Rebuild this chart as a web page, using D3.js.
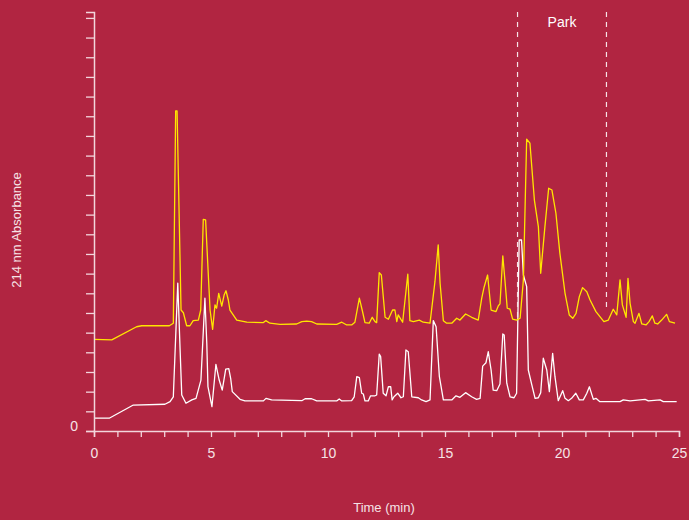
<!DOCTYPE html>
<html>
<head>
<meta charset="utf-8">
<script src="https://cdn.jsdelivr.net/npm/d3@7"></script>
<style>
  html, body { margin: 0; padding: 0; background: #b12541; }
  svg { display: block; }
  text { font-family: "Liberation Sans", Arial, sans-serif; }
</style>
</head>
<body>
<svg id="chart" width="689" height="520"></svg>
<script>
// ---- data ----
const xTicks = d3.range(0, 26, 1);
const xTickLabels = [0, 5, 10, 15, 20, 25];
const yTicks = d3.range(0, 22, 1);
const yTickLabels = [0];
const xTitle = "Time (min)";
const yTitle = "214 nm Absorbance";
const regionLabel = "Park";
const regionBounds = [18.1, 21.9];
const regionBottoms = [5.7, 6.2];

// yellow trace: [time, absorbance]
const yellowTime = [0,0.76,1.82,2.04,3.22,3.39,3.49,3.55,3.72,3.82,3.96,4.10,4.24,4.46,4.56,4.67,4.77,4.86,4.96,5.07,5.17,5.24,5.33,5.46,5.56,5.64,5.74,5.81,6.10,6.53,7.24,7.34,7.52,7.95,8.66,8.88,9.09,9.30,9.52,10.37,10.59,10.80,11.01,11.15,11.34,11.47,11.58,11.76,11.89,12.01,12.08,12.19,12.28,12.44,12.58,12.76,12.86,12.94,13.00,13.19,13.41,13.50,13.65,13.90,14.07,14.36,14.57,14.71,14.79,14.93,15.07,15.29,15.50,15.64,15.88,16.14,16.42,16.57,16.67,16.82,16.97,17.18,17.28,17.35,17.47,17.56,17.66,17.78,17.89,18.06,18.21,18.35,18.49,18.63,18.82,18.99,19.09,19.27,19.43,19.57,19.74,19.91,20.13,20.31,20.46,20.60,20.74,20.88,21.06,21.20,21.45,21.79,21.98,22.19,22.34,22.48,22.58,22.74,22.82,22.91,23.05,23.12,23.29,23.41,23.59,23.72,23.86,23.97,24.09,24.26,24.47,24.59,24.83];
const yellowValue = [4.66,4.63,5.30,5.35,5.35,5.48,16.27,16.27,6.15,6.01,5.35,5.35,5.61,5.64,6.15,10.76,10.73,8.54,6.15,5.17,6.41,6.24,7.00,6.35,6.91,7.13,6.66,6.15,5.64,5.53,5.51,5.61,5.48,5.42,5.44,5.56,5.59,5.56,5.44,5.42,5.53,5.39,5.39,5.53,6.75,6.10,5.51,5.48,5.78,5.56,5.51,8.05,7.93,5.78,5.68,6.15,6.15,5.56,5.90,5.53,7.97,5.61,5.56,5.64,5.53,5.48,7.59,9.46,7.51,5.61,5.48,5.48,5.73,5.64,5.95,5.78,5.64,6.75,7.31,7.93,6.15,6.07,6.37,6.46,8.90,7.68,6.24,6.19,5.69,5.64,5.73,7.68,14.83,14.63,11.74,10.39,8.02,10.39,12.34,12.25,11.07,9.03,7.00,5.90,5.73,5.98,6.83,7.29,7.08,6.66,6.07,5.56,5.64,6.19,5.90,7.68,6.41,5.78,7.76,6.49,5.56,5.48,5.98,5.44,5.39,5.56,5.85,5.48,5.44,5.64,5.93,5.56,5.48];

// white trace: [time, absorbance]
const whiteTime = [0,0.65,1.68,3.03,3.25,3.39,3.58,3.68,3.75,3.93,4.18,4.36,4.57,4.74,4.82,4.87,5.04,5.21,5.35,5.48,5.63,5.76,5.84,5.91,6.24,6.45,7.24,7.35,7.59,8.88,9.02,9.30,9.52,10.37,10.48,10.59,11.01,11.12,11.23,11.34,11.44,11.51,11.58,11.72,11.82,12.01,12.08,12.19,12.25,12.36,12.48,12.58,12.68,12.74,12.82,12.98,13.12,13.22,13.33,13.43,13.58,13.86,14.00,14.19,14.36,14.50,14.62,14.76,14.93,15.29,15.47,15.64,15.88,16.14,16.35,16.50,16.61,16.75,16.85,16.97,17.06,17.21,17.35,17.47,17.53,17.64,17.78,17.95,18.06,18.17,18.27,18.35,18.49,18.56,18.71,18.85,18.99,19.09,19.20,19.35,19.46,19.60,19.70,19.84,20.03,20.13,20.27,20.41,20.59,20.74,20.91,21.06,21.17,21.34,21.45,21.62,22.48,22.62,22.91,23.55,23.69,24.19,24.33,24.90];
const whiteValue = [0.65,0.65,1.32,1.36,1.49,1.74,7.51,4.12,1.83,1.41,1.58,1.66,2.59,6.75,4.46,2.25,1.24,3.39,2.59,2.08,3.14,3.17,2.68,2.00,1.61,1.53,1.53,1.66,1.58,1.54,1.64,1.64,1.53,1.53,1.63,1.53,1.54,1.74,2.76,2.71,1.92,1.88,1.53,1.53,1.79,1.79,1.83,3.91,3.78,1.92,1.79,2.25,2.25,1.58,1.74,1.92,1.69,1.74,4.12,4.03,1.74,1.69,1.58,1.49,1.58,5.61,5.30,2.76,1.58,1.58,1.79,1.71,1.95,1.74,1.61,1.66,3.30,3.47,4.03,3.10,2.08,2.05,2.39,4.93,4.88,2.43,1.74,1.69,1.92,9.71,9.71,7.93,7.34,3.10,2.34,1.66,1.69,1.95,3.70,3.10,2.00,3.95,2.76,1.54,2.05,1.66,1.54,1.66,1.92,1.58,1.58,1.92,2.25,1.61,1.66,1.49,1.49,1.58,1.53,1.61,1.53,1.58,1.49,1.49];

// ---- drawing ----
const margin = { left: 94, right: 10, top: 12, bottom: 89 };
const svg = d3.select("#chart");
const axisColor = "#f3d5dc";
const textColor = "#f6e2e6";

const x = d3.scaleLinear().domain([0, 25]).range([margin.left, 679]);
const y = d3.scaleLinear().domain([0, 21.3]).range([431, margin.top]);

// traces
const line = d3.line().x(d => x(d[0])).y(d => y(d[1]));
const yellowData = d3.zip(yellowTime, yellowValue);
const whiteData = d3.zip(whiteTime, whiteValue);

svg.append("path").datum(whiteData)
  .attr("d", line).attr("fill", "none")
  .attr("stroke", "#ffffff").attr("stroke-width", 1.3)
  .attr("stroke-linejoin", "round");

svg.append("path").datum(yellowData)
  .attr("d", line).attr("fill", "none")
  .attr("stroke", "#ffe600").attr("stroke-width", 1.3)
  .attr("stroke-linejoin", "round");

// region dashed lines
regionBounds.forEach((b, i) => {
  svg.append("line")
    .attr("x1", x(b)).attr("x2", x(b))
    .attr("y1", y(21.3)).attr("y2", y(regionBottoms[i]))
    .attr("stroke", "#f6e2e6").attr("stroke-width", 1.2)
    .attr("stroke-dasharray", "5,5");
});
svg.append("text")
  .attr("x", x((regionBounds[0] + regionBounds[1]) / 2))
  .attr("y", 27)
  .attr("text-anchor", "middle")
  .attr("fill", "#ffffff")
  .attr("font-size", 14)
  .text(regionLabel);

// x axis
const xAxis = d3.axisBottom(x)
  .tickValues(xTicks)
  .tickSize(6)
  .tickSizeOuter(6)
  .tickPadding(11)
  .tickFormat(d => xTickLabels.includes(d) ? d : "");
const gx = svg.append("g").attr("transform", "translate(0,431)").call(xAxis);
gx.select(".domain").attr("stroke", axisColor).attr("stroke-width", 1.5);
gx.selectAll(".tick line").attr("stroke", axisColor).attr("stroke-width", 1.3);
gx.selectAll(".tick text").attr("fill", textColor).attr("font-size", 14)
  .attr("font-family", "'Liberation Sans', Arial, sans-serif");

// y axis
const yAxis = d3.axisLeft(y)
  .tickValues(yTicks)
  .tickSize(8)
  .tickSizeOuter(8)
  .tickPadding(8)
  .tickFormat(d => yTickLabels.includes(d) ? d : "");
const gy = svg.append("g").attr("transform", `translate(${margin.left},0)`).call(yAxis);
gy.select(".domain").attr("stroke", axisColor).attr("stroke-width", 1.5);
gy.selectAll(".tick line").attr("stroke", axisColor).attr("stroke-width", 1.3);
gy.selectAll(".tick text").attr("fill", textColor).attr("font-size", 14)
  .attr("dy", "-0.05em")
  .attr("font-family", "'Liberation Sans', Arial, sans-serif");

// titles
svg.append("text")
  .attr("x", 384).attr("y", 512)
  .attr("text-anchor", "middle")
  .attr("fill", textColor).attr("font-size", 13)
  .text(xTitle);
svg.append("text")
  .attr("transform", "translate(21,230) rotate(-90)")
  .attr("text-anchor", "middle")
  .attr("fill", textColor).attr("font-size", 13)
  .text(yTitle);
</script>
</body>
</html>
